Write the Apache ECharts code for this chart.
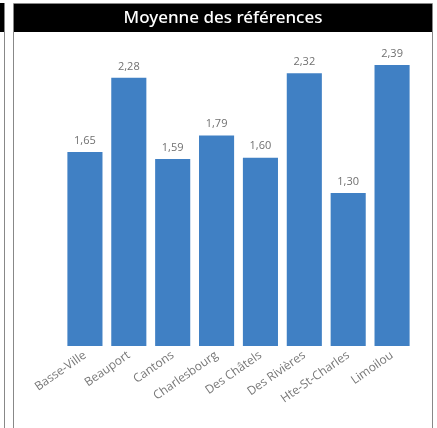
<!DOCTYPE html>
<html>
<head>
<meta charset="utf-8">
<script src="https://cdn.jsdelivr.net/npm/echarts@6/dist/echarts.min.js"></script>
<style>
  html, body { margin: 0; padding: 0; background: #fff; }
  #chart { width: 437px; height: 428px; }
</style>
</head>
<body>
<div id="chart"></div>
<script>
const secteurs = ["Basse-Ville", "Beauport", "Cantons", "Charlesbourg", "Des Châtels", "Des Rivières", "Hte-St-Charles", "Limoilou"];
const moyennes = [1.65, 2.28, 1.59, 1.79, 1.60, 2.32, 1.30, 2.39];

const chart = echarts.init(document.getElementById("chart"));

chart.setOption({
  animation: false,
  graphic: [
    // bout du panneau voisin
    { type: "rect", shape: { x: 0, y: 3, width: 4, height: 29 }, style: { fill: "#000" } },
    { type: "line", shape: { x1: 4.5, y1: 3, x2: 4.5, y2: 428 }, style: { stroke: "#888", lineWidth: 1 } },
    // cadre du visuel
    { type: "rect", shape: { x: 13.5, y: 3.5, width: 419, height: 430 }, style: { fill: "none", stroke: "#888", lineWidth: 1 } },
    { type: "rect", shape: { x: 14, y: 4, width: 418, height: 28 }, style: { fill: "#000" } },
    {
      type: "text", x: 223, y: 18,
      style: {
        text: "Moyenne des références", fill: "#fff",
        font: "500 17px 'Noto Sans'", align: "center", verticalAlign: "middle"
      }
    }
  ],
  grid: { left: 63, right: 23, top: 52, bottom: 82 },
  xAxis: {
    type: "category",
    data: secteurs,
    axisLine: { show: false },
    axisTick: { show: false },
    axisLabel: {
      interval: 0, rotate: 35, color: "#777", fontSize: 12,
      fontFamily: "'Open Sans'", margin: 8
    }
  },
  yAxis: {
    type: "value", min: 0, max: 2.5, show: false,
    splitLine: { show: false }
  },
  series: [{
    type: "bar",
    data: moyennes,
    barCategoryGap: "20%",
    itemStyle: { color: "#4080C4" },
    label: {
      show: true, position: "top", distance: 6,
      color: "#707070", fontSize: 11, fontFamily: "'Open Sans'",
      formatter: (p) => p.value.toFixed(2).replace(".", ",")
    }
  }]
});
</script>
</body>
</html>
